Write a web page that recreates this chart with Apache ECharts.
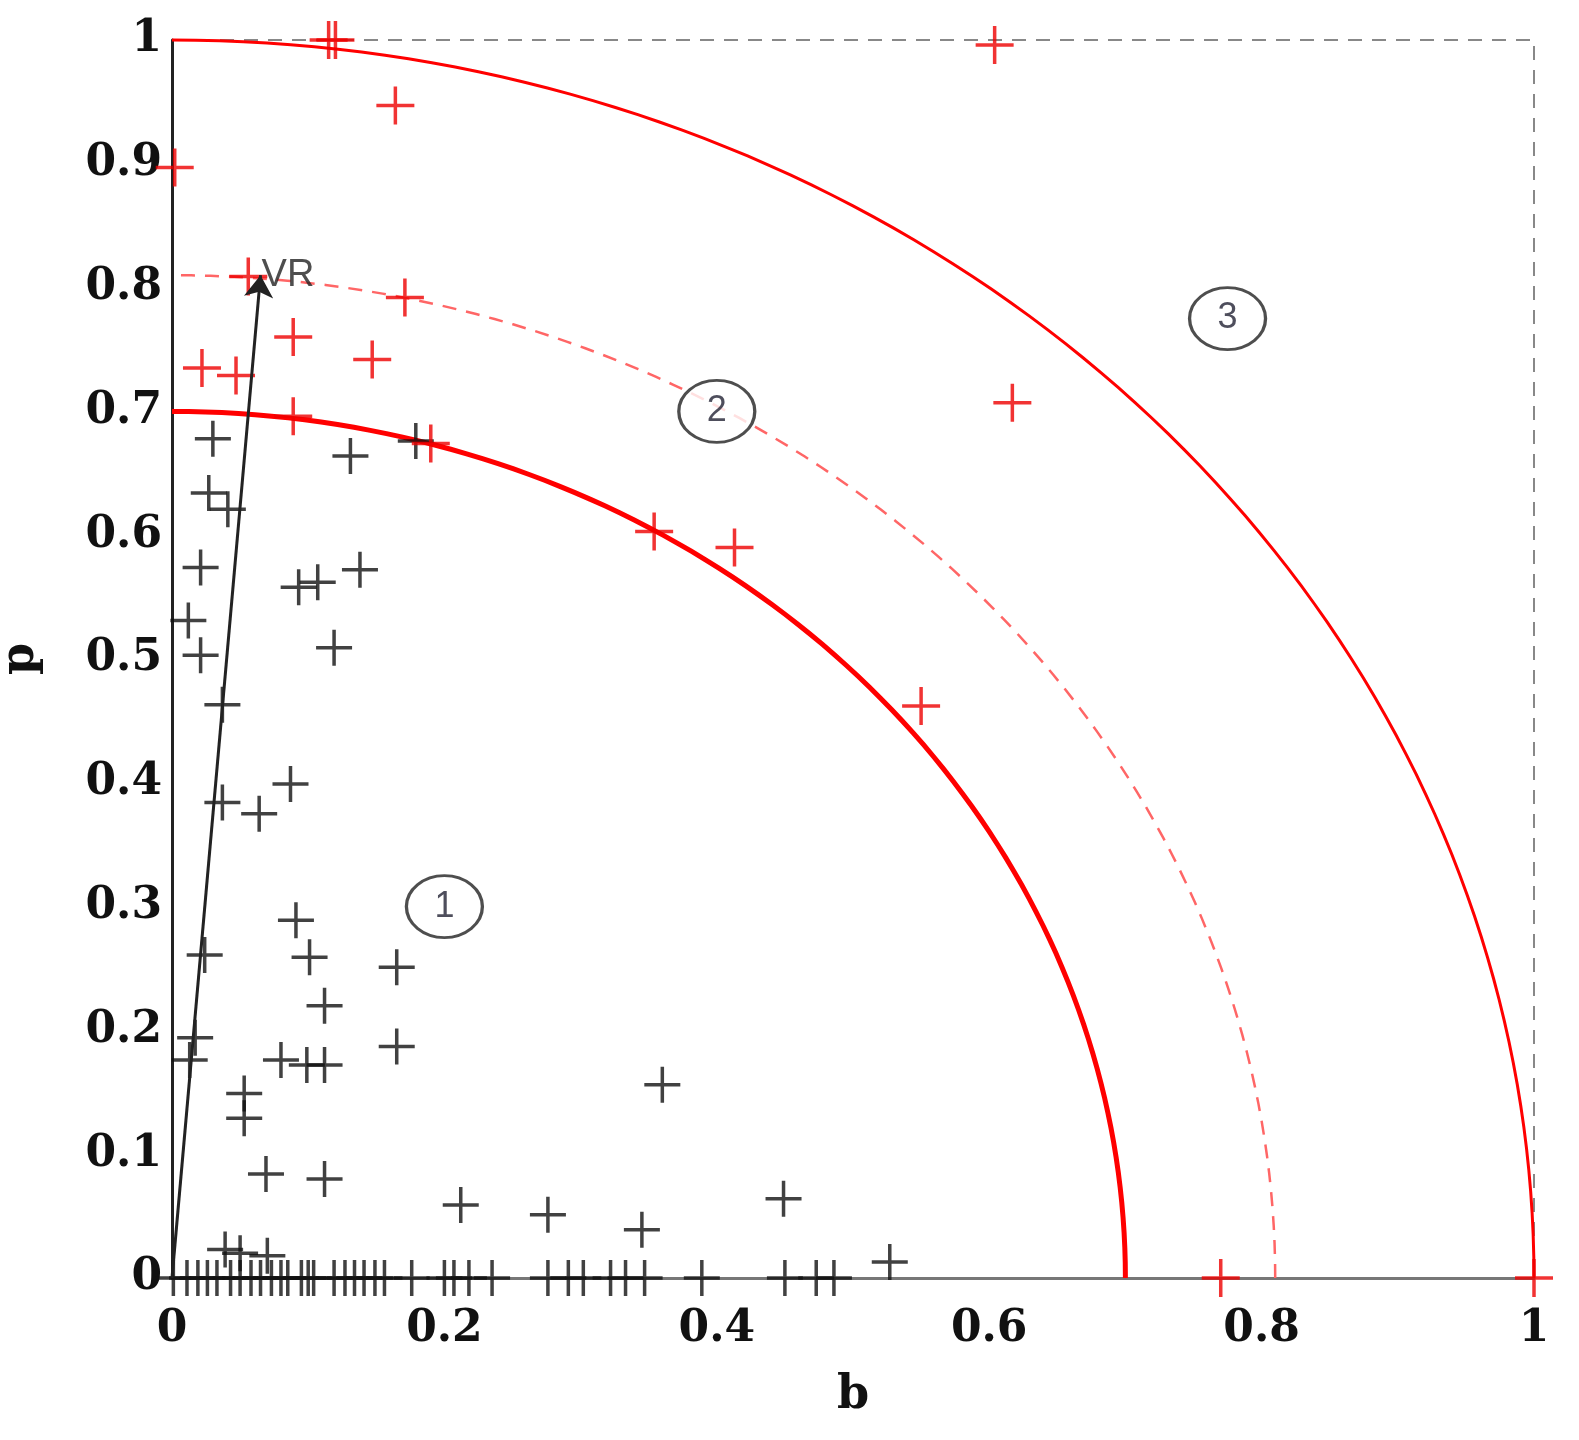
<!DOCTYPE html>
<html>
<head>
<meta charset="UTF-8">
<script src="https://cdn.jsdelivr.net/npm/echarts@6/dist/echarts.min.js"></script>
<style>
  body { margin: 0; background: #fff; }
  #chart { width: 1579px; height: 1440px; }
</style>
</head>
<body>
<div id="chart"></div>
<script>
    // red points (b, p)
    const redPoints = [
        [0.12, 1.0], [0.115, 1.0], [0.604, 0.996], [0.164, 0.947], [0.002, 0.897],
        [0.056, 0.809], [0.171, 0.792], [0.089, 0.760], [0.147, 0.742], [0.022, 0.735],
        [0.047, 0.729], [0.089, 0.696], [0.19, 0.674], [0.617, 0.707], [0.354, 0.603],
        [0.413, 0.590], [0.550, 0.462], [0.770, 0.0], [1.0, 0.0]
    ];
    const blackPoints = [
        [0.030, 0.678], [0.027, 0.634], [0.041, 0.621], [0.131, 0.664], [0.179, 0.676],
        [0.021, 0.574], [0.093, 0.558], [0.107, 0.562], [0.138, 0.572], [0.012, 0.531],
        [0.021, 0.503], [0.119, 0.509], [0.037, 0.463], [0.087, 0.399], [0.037, 0.384],
        [0.064, 0.375], [0.091, 0.289], [0.024, 0.261], [0.101, 0.259], [0.165, 0.251],
        [0.112, 0.220], [0.017, 0.194], [0.165, 0.187], [0.08, 0.176], [0.099, 0.172],
        [0.112, 0.172], [0.013, 0.176], [0.053, 0.149], [0.053, 0.129], [0.36, 0.156],
        [0.069, 0.084], [0.112, 0.080], [0.212, 0.059], [0.276, 0.051], [0.345, 0.039],
        [0.449, 0.064], [0.527, 0.013], [0.039, 0.023], [0.05, 0.02], [0.07, 0.018]
    ];
    // points lying on p = 0
    const zeroB = [0.001, 0.011, 0.019, 0.026, 0.033, 0.043, 0.05, 0.058, 0.065, 0.073,
        0.08, 0.085, 0.095, 0.1, 0.104, 0.119, 0.127, 0.134, 0.141, 0.149, 0.156, 0.176,
        0.2, 0.207, 0.218, 0.235, 0.276, 0.291, 0.302, 0.322, 0.333, 0.347, 0.389,
        0.45, 0.473, 0.486];
    const radii = [0.7, 0.81, 1.0];
    const radiusDashed = [false, true, false];
    const regionLabels = [[0.2, 0.3, '1'], [0.4, 0.7, '2'], [0.775, 0.775, '3']];
    const vrArrow = [[0, 0], [0.065, 0.81]];

    const chart = echarts.init(document.getElementById('chart'));
    const crossSym = 'path://M0,-1 L0,1 M-1,0 L1,0';
    const axisFont = { fontFamily: 'DejaVu Serif', fontWeight: 'bold', fontSize: 44, color: '#111' };

    const crossStyle = (c) => ({ color: 'none', borderColor: c, borderWidth: 3.5 });

    chart.setOption({
        animation: false,
        grid: { left: 172, right: 45, top: 40, bottom: 162, outerBoundsMode: 'none', containLabel: false },
        xAxis: {
            type: 'value', min: 0, max: 1, interval: 0.2,
            name: 'b', nameLocation: 'middle', nameGap: 95,
            nameTextStyle: Object.assign({}, axisFont, { fontSize: 46 }),
            axisLine: { lineStyle: { color: '#777', width: 3 } },
            axisTick: { show: false },
            splitLine: { show: false },
            axisLabel: Object.assign({ margin: 30 }, axisFont)
        },
        yAxis: {
            type: 'value', min: 0, max: 1, interval: 0.1,
            name: 'p', nameLocation: 'middle', nameGap: 128,
            nameTextStyle: Object.assign({}, axisFont, { fontSize: 46 }),
            axisLine: { show: true, lineStyle: { color: '#222', width: 3 } },
            axisTick: { show: false },
            splitLine: { show: false },
            axisLabel: Object.assign({ margin: 10 }, axisFont)
        },
        series: [
            {
                type: 'line', data: [[0, 1], [1, 1], [1, 0]], symbol: 'none',
                lineStyle: { color: '#888', width: 2, type: [14, 10] }, z: 1
            },
            {
                type: 'custom',
                data: radii.map((r, i) => [r, i]),
                renderItem: function (params, api) {
                    const r = api.value(0);
                    const pts = [];
                    for (let k = 0; k <= 90; k++) {
                        const a = k * Math.PI / 180;
                        pts.push(api.coord([r * Math.cos(a), r * Math.sin(a)]));
                    }
                    const dashed = radiusDashed[api.value(1)];
                    return {
                        type: 'polyline',
                        shape: { points: pts },
                        style: {
                            fill: 'none', stroke: dashed ? '#f66' : '#f00',
                            lineWidth: dashed ? 2.5 : (r < 0.75 ? 5 : 3),
                            lineDash: dashed ? [14, 10] : null
                        }
                    };
                },
                z: 2
            },
            {
                type: 'scatter', data: blackPoints.concat(zeroB.map(b => [b, 0])),
                symbol: crossSym, symbolSize: 36, itemStyle: crossStyle('#111'), z: 3
            },
            {
                type: 'scatter', data: redPoints,
                symbol: crossSym, symbolSize: 38, itemStyle: crossStyle('#e00'), z: 4
            },
            {
                type: 'lines', coordinateSystem: 'cartesian2d', polyline: false,
                data: [{ coords: vrArrow }],
                symbol: ['none', 'arrow'], symbolSize: 22,
                lineStyle: { color: '#222', width: 3, opacity: 1 }, z: 5
            },
            {
                type: 'scatter', data: [[vrArrow[1][0], vrArrow[1][1], 'VR']],
                symbolSize: 0,
                label: {
                    show: true, position: 'right', offset: [-4, 0],
                    formatter: p => p.value[2],
                    fontFamily: 'Liberation Sans', fontSize: 38, color: '#222'
                }, z: 6
            },
            {
                type: 'scatter', data: regionLabels,
                symbol: 'circle', symbolSize: [76, 62],
                itemStyle: { color: '#fff', borderColor: '#222', borderWidth: 3 },
                label: {
                    show: true, position: 'inside', formatter: p => p.value[2],
                    fontFamily: 'Liberation Sans', fontSize: 36, color: '#223'
                }, z: 6
            }
        ]
    });
</script>
</body>
</html>
